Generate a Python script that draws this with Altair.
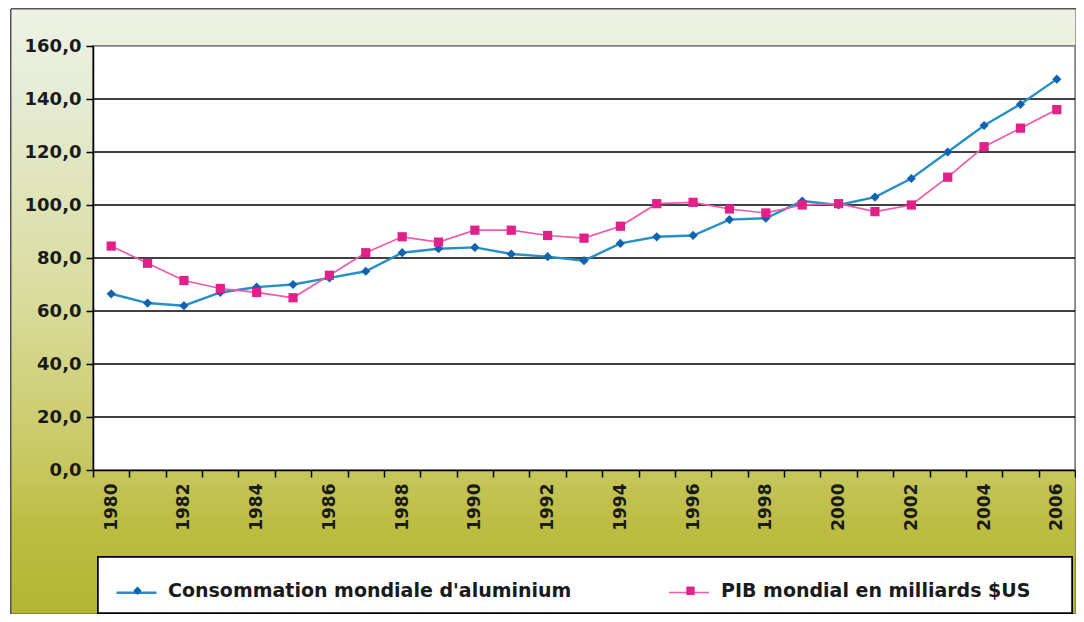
import altair as alt
import pandas as pd

# ---- data ----
years = list(range(1980, 2007))
alu = [66.5, 63.0, 62.0, 67.0, 69.0, 70.0, 72.5, 75.0, 82.0, 83.5, 84.0, 81.5, 80.5, 79.0,
       85.5, 88.0, 88.5, 94.5, 95.0, 101.5, 100.0, 103.0, 110.0, 120.0, 130.0, 138.0, 147.5]
pib = [84.5, 78.0, 71.5, 68.5, 67.0, 65.0, 73.5, 82.0, 88.0, 86.0, 90.5, 90.5, 88.5, 87.5,
       92.0, 100.5, 101.0, 98.5, 97.0, 100.0, 100.5, 97.5, 100.0, 110.5, 122.0, 129.0, 136.0]
labels = ["Consommation mondiale d'aluminium", "PIB mondial en milliards $US"]
codes = ["a", "b"]
line_colors = ["#2590c8", "#ee5aa8"]
line_widths = [2.4, 1.7]
marker_colors = ["#1262b0", "#e2208a"]
shapes = ["diamond", "square"]
y_ticks = [0, 20, 40, 60, 80, 100, 120, 140, 160]

rows = []
for lab, code, series in zip(labels, codes, [alu, pib]):
    for yr, v in zip(years, series):
        rows.append({"year": yr, "value": v, "label": lab, "code": code})
df = pd.DataFrame(rows)
grid_df = pd.DataFrame({"v": [t for t in y_ticks if 0 < t < max(y_ticks)]})
bounds = [y - 0.5 for y in years] + [years[-1] + 0.5]

W, H = 982, 424
FONT = "DejaVu Sans"

x_scale = alt.Scale(domain=[bounds[0], bounds[-1]], nice=False, zero=False)
y_scale = alt.Scale(domain=[y_ticks[0], y_ticks[-1]], nice=False)

x_label_expr = ("(datum.value + 0.5) % 2 == 0 && datum.value < " + str(years[-1])
                + " ? '' + (datum.value + 0.5) : ''")
x_axis = alt.Axis(
    values=bounds, title=None, grid=False, labelAngle=-90,
    labelExpr=x_label_expr,
    labelOffset=W / len(years) / 2, labelOverlap=False, labelFlush=False, labelBound=False,
    labelFont=FONT, labelFontWeight="bold", labelFontSize=17, labelColor="#1a1a1a", labelPadding=6,
    tickSize=7, tickWidth=1.5, tickColor="black", domainColor="black", domainWidth=1.5, zindex=2,
)
y_axis = alt.Axis(
    values=y_ticks, title=None, grid=False,
    labelExpr="replace(format(datum.value, '.1f'), '.', ',')",
    labelFont=FONT, labelFontWeight="bold", labelFontSize=18, labelColor="#1a1a1a", labelPadding=5,
    labelOverlap=False, labelFlush=False,
    tickSize=7, tickWidth=1.5, tickColor="black", domainColor="black", domainWidth=1.5, zindex=2,
)

bg_gradient = alt.Gradient(
    gradient="linear", x1=0, y1=0, x2=0, y2=1,
    stops=[alt.GradientStop(offset=0.0, color="#eef3e6"),
           alt.GradientStop(offset=0.15, color="#e5ebd3"),
           alt.GradientStop(offset=0.48, color="#d9dc9c"),
           alt.GradientStop(offset=0.745, color="#c8c862"),
           alt.GradientStop(offset=0.845, color="#bdbd45"),
           alt.GradientStop(offset=1.0, color="#b3b432")],
)

base = alt.Chart(df)

background = base.mark_rect(color=bg_gradient, stroke="#555555", strokeWidth=1).encode(
    x=alt.value(-82), x2=alt.value(W + 1), y=alt.value(-37), y2=alt.value(H + 144)
)
legend_box = base.mark_rect(fill="white", stroke="black", strokeWidth=1.5).encode(
    x=alt.value(5), x2=alt.value(979), y=alt.value(511), y2=alt.value(567)
)
plot_bg = base.mark_rect(fill="white", stroke="#808080", strokeWidth=1.5).encode(
    x=alt.value(0), x2=alt.value(W), y=alt.value(0), y2=alt.value(H)
)
grid = alt.Chart(grid_df).mark_rule(color="black", strokeWidth=1.5).encode(
    y=alt.Y("v:Q", scale=y_scale, axis=y_axis), x=alt.value(0), x2=alt.value(W)
)

lines = base.mark_line().encode(
    x=alt.X("year:Q", scale=x_scale, axis=x_axis),
    y=alt.Y("value:Q", scale=y_scale, axis=y_axis),
    stroke=alt.Stroke("code:N", scale=alt.Scale(domain=codes, range=line_colors),
                      legend=alt.Legend(orient="none", legendX=22, legendY=525, direction="horizontal",
                                        title=None, labelExpr="''", labelOffset=0, columnPadding=503,
                                        symbolType="stroke", symbolSize=1600, symbolStrokeWidth=2,
                                        padding=0, zindex=3)),
    strokeWidth=alt.StrokeWidth("code:N", scale=alt.Scale(domain=codes, range=line_widths), legend=None),
)
points = base.mark_point(filled=True, size=85, opacity=1).encode(
    x=alt.X("year:Q", scale=x_scale, axis=x_axis),
    y=alt.Y("value:Q", scale=y_scale, axis=y_axis),
    color=alt.Color("label:N", scale=alt.Scale(domain=labels, range=marker_colors),
                    legend=alt.Legend(orient="none", legendX=35, legendY=535, direction="horizontal",
                                      title=None, labelFont=FONT, labelFontWeight="bold", labelFontSize=19,
                                      labelColor="#1a1a1a", labelOffset=21, columnPadding=109,
                                      symbolSize=70, symbolOpacity=1, padding=0, labelLimit=1000,
                                      zindex=4)),
    shape=alt.Shape("label:N", scale=alt.Scale(domain=labels, range=shapes)),
)

chart = alt.layer(background, legend_box, plot_bg, grid, lines, points).properties(
    width=W, height=H,
    autosize=alt.AutoSizeParams(type="none"),
    padding={"left": 85, "top": 38, "right": 1, "bottom": 144},
).configure_view(stroke=None)

chart.save("out.html", embed_options={"renderer": "svg", "actions": False})
